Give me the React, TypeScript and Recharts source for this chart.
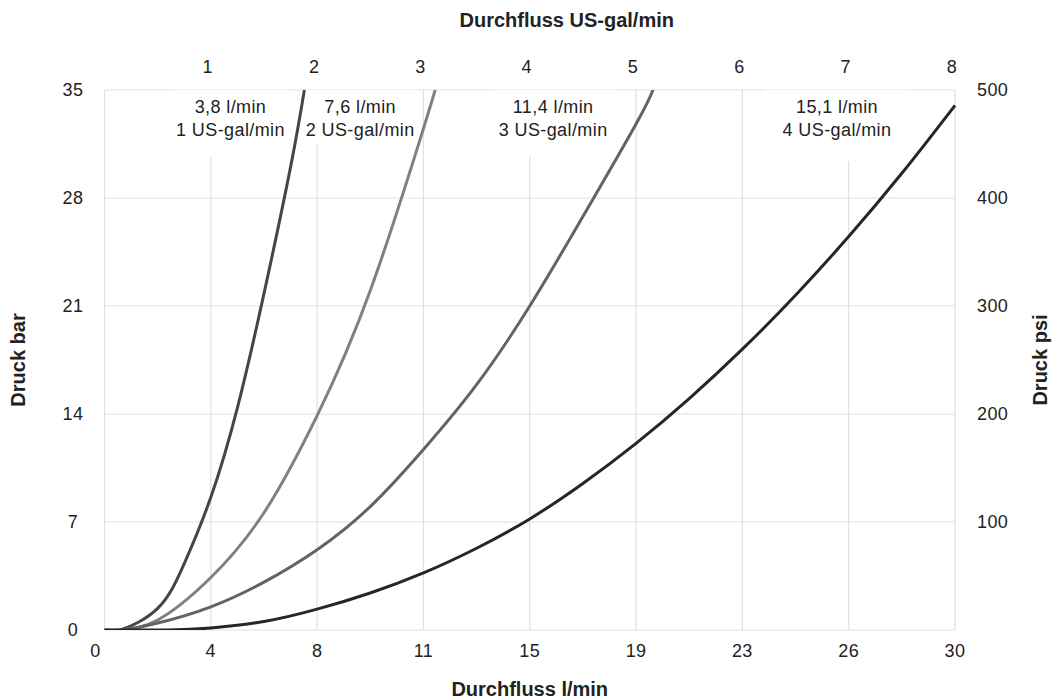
import { LineChart, Line, XAxis, YAxis, CartesianGrid, ReferenceArea } from 'recharts';

// x is flow in US-gal/min, y is pressure in bar
const galTicks = [0, 1, 2, 3, 4, 5, 6, 7, 8];
const topGalTicks = [1, 2, 3, 4, 5, 6, 7, 8];
const litreLabels = ['0', '4', '8', '11', '15', '19', '23', '26', '30'];
const barTicks = [0, 7, 14, 21, 28, 35];
const psiTicks = [100, 200, 300, 400, 500];

const nozzle1Gal = [0, 0.15, 0.5, 0.75, 1, 1.25, 1.5, 1.75, 1.88];
const nozzle1Bar = [0, 0, 1.4, 4.3, 8.6, 14.4, 21.8, 30.0, 35];

const nozzle2Gal = [0, 0.15, 0.5, 1, 1.5, 2, 2.5, 3, 3.11];
const nozzle2Bar = [0, 0, 0.65, 3.4, 7.6, 13.9, 22.0, 32.5, 35];

const nozzle3Gal = [0, 0.15, 0.5, 1, 1.5, 2, 2.5, 3, 3.5, 4, 4.5, 5, 5.16];
const nozzle3Bar = [0, 0, 0.45, 1.5, 3.1, 5.2, 8.0, 11.7, 15.9, 21, 26.8, 32.8, 35];

const nozzle4Gal = [0, 0.6, 1, 1.5, 2, 2.5, 3, 3.5, 4, 4.5, 5, 5.5, 6, 6.5, 7, 7.5, 8];
const nozzle4Bar = [0, 0, 0.13, 0.55, 1.35, 2.4, 3.7, 5.3, 7.2, 9.5, 12.1, 15.0, 18.2, 21.7, 25.5, 29.6, 34.0];

const nozzleNames = [
  ['3,8 l/min', '1 US-gal/min'],
  ['7,6 l/min', '2 US-gal/min'],
  ['11,4 l/min', '3 US-gal/min'],
  ['15,1 l/min', '4 US-gal/min'],
];

const toRows = (gal: number[], bar: number[]) => gal.map((g, i) => ({ gal: g, bar: bar[i] }));

const series = [
  { key: 'n1', rows: toRows(nozzle1Gal, nozzle1Bar), color: '#454545' },
  { key: 'n2', rows: toRows(nozzle2Gal, nozzle2Bar), color: '#808080' },
  { key: 'n3', rows: toRows(nozzle3Gal, nozzle3Bar), color: '#636363' },
  { key: 'n4', rows: toRows(nozzle4Gal, nozzle4Bar), color: '#262626' },
];

// white boxes behind the nozzle labels (cover the grid)
const labelBoxes = [
  { x1: 0.64, x2: 1.73, y1: 30.6 },
  { x1: 1.86, x2: 2.95, y1: 31.5 },
  { x1: 3.63, x2: 4.81, y1: 30.7 },
  { x1: 6.2, x2: 7.58, y1: 30.4 },
];

const FONT = '"Liberation Sans", Arial, sans-serif';
const TEXT = '#222';

function BoxLabel(props: any) {
  const { viewBox, lines } = props;
  const cx = viewBox.x + viewBox.width / 2;
  return (
    <g>
      {lines.map((t: string, i: number) => (
        <text
          key={i}
          x={cx}
          y={viewBox.y + 23 + i * 23}
          textAnchor="middle"
          fontSize={18}
          letterSpacing={0.4}
          fill={TEXT}
        >
          {t}
        </text>
      ))}
    </g>
  );
}

function LitreTick(props: any) {
  const { x, y, index } = props;
  return (
    <text
      x={x + (index === 0 ? -9 : 0)}
      y={y}
      dy="0.71em"
      textAnchor="middle"
      fontSize={18}
      letterSpacing={0.4}
      fill={TEXT}
    >
      {litreLabels[index]}
    </text>
  );
}

const tickStyle = { fontSize: 18, fill: TEXT, letterSpacing: 0.4 };
const titleStyle = { fontSize: 20, fontWeight: 700, fill: TEXT };

export default function App() {
  return (
    <div style={{ position: 'fixed', left: 0, top: 0, fontFamily: FONT, background: '#fff' }}>
      <LineChart width={1054} height={699} margin={{ top: 0, right: 0, bottom: 0, left: 0 }}>
        <CartesianGrid stroke="#e0e0e0" strokeWidth={1.2} />
        <XAxis
          dataKey="gal"
          type="number"
          domain={[0, 8]}
          ticks={galTicks}
          height={69}
          axisLine={false}
          tickLine={false}
          tickSize={0}
          tickMargin={14}
          tick={<LitreTick />}
          label={{ value: 'Durchfluss l/min', position: 'insideBottom', offset: 3, style: titleStyle }}
        />
        <XAxis
          xAxisId="top"
          orientation="top"
          dataKey="gal"
          type="number"
          domain={[0, 8]}
          allowDataOverflow
          ticks={topGalTicks}
          height={90}
          axisLine={false}
          tickLine={false}
          tickSize={0}
          tickMargin={17}
          tick={{ ...tickStyle, dx: -3 }}
          label={{ value: 'Durchfluss US-gal/min', position: 'insideTop', offset: 13, dx: 37, style: titleStyle }}
        />
        <YAxis
          type="number"
          domain={[0, 35]}
          allowDataOverflow
          ticks={barTicks}
          width={104.5}
          axisLine={false}
          tickLine={false}
          tickSize={0}
          tickMargin={31.5}
          tick={{ ...tickStyle, textAnchor: 'middle' }}
          label={{
            value: 'Druck bar',
            angle: -90,
            position: 'insideLeft',
            offset: 18,
            style: { ...titleStyle, textAnchor: 'middle' },
          }}
        />
        <YAxis
          yAxisId="psi"
          orientation="right"
          type="number"
          domain={[0, 500]}
          allowDataOverflow
          ticks={psiTicks}
          width={99}
          axisLine={false}
          tickLine={false}
          tickSize={0}
          tickMargin={22}
          tick={tickStyle}
          label={{
            value: 'Druck psi',
            angle: -90,
            position: 'insideRight',
            offset: 14,
            style: { ...titleStyle, textAnchor: 'middle' },
          }}
        />
        {labelBoxes.map((b, i) => (
          <ReferenceArea
            key={i}
            x1={b.x1}
            x2={b.x2}
            y1={b.y1}
            y2={35}
            fill="#fff"
            fillOpacity={1}
            stroke="none"
            label={<BoxLabel lines={nozzleNames[i]} />}
          />
        ))}
        {series.map((s) => (
          <Line
            key={s.key}
            data={s.rows}
            dataKey="bar"
            type="natural"
            stroke={s.color}
            strokeWidth={3}
            dot={false}
            activeDot={false}
            isAnimationActive={false}
          />
        ))}
      </LineChart>
    </div>
  );
}
